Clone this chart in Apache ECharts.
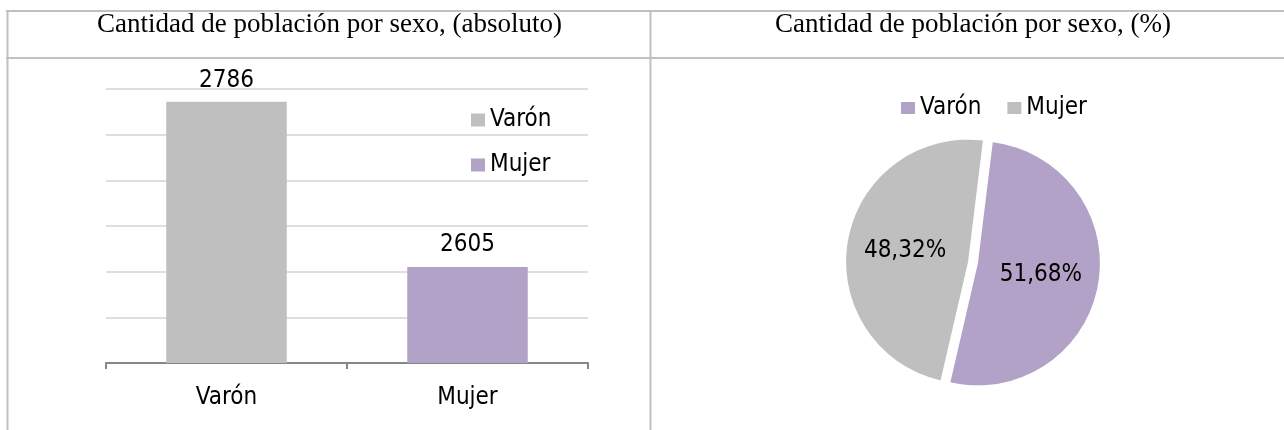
<!DOCTYPE html>
<html lang="es">
<head>
    <meta charset="UTF-8">
    <title>Cantidad de población por sexo</title>
    <style>
        html, body { margin: 0; padding: 0; background: #fff; }
        #main { width: 1284px; height: 430px; }
    </style>
    <script src="https://cdn.jsdelivr.net/npm/echarts@6/dist/echarts.min.js"></script>
</head>
<body>
    <div id="main"></div>
    <script>
        // datos
        const categorias = ['Varón', 'Mujer'];
        const poblacion = [2786, 2605];
        const titulos = ['Cantidad de población por sexo, (absoluto)', 'Cantidad de población por sexo, (%)'];
        const ejeMin = 2500, ejeMax = 2800, ejeIntervalo = 50;

        const gris = '#BFBFBF';
        const lila = '#B3A2C7';
        const fuente = "'DejaVu Sans Condensed', 'DejaVu Sans'";
        const borde = '#C0C0C0';
        const tam = 24;

        const chart = echarts.init(document.getElementById('main'));

        // lineas de la tabla
        function linea(x1, y1, x2, y2) {
            return { type: 'line', shape: { x1, y1, x2, y2 }, style: { stroke: borde, lineWidth: 2 }, silent: true };
        }
        function titulo(x, texto) {
            return { type: 'text', x: x, y: 25, style: { text: texto, fontFamily: 'Liberation Serif', fontSize: 27, fill: '#000', align: 'center', verticalAlign: 'middle' } };
        }

        const option = {
            animation: false,
            graphic: [
                linea(6, 11, 1284, 11),
                linea(6, 58, 1284, 58),
                linea(7.5, 10, 7.5, 430),
                linea(650.5, 10, 650.5, 430),
                titulo(329.5, titulos[0]),
                titulo(973, titulos[1])
            ],
            textStyle: { fontFamily: fuente },
            legend: [{
                data: categorias,
                orient: 'vertical',
                left: 471,
                top: 108,
                padding: 0,
                itemWidth: 14,
                itemHeight: 13,
                itemGap: 21,
                icon: 'rect',
                textStyle: { fontFamily: fuente, fontSize: tam, color: '#000' },
                selectedMode: false
            }, {
                data: [
                    { name: categorias[0], itemStyle: { color: lila } },
                    { name: categorias[1], itemStyle: { color: gris } }
                ],
                orient: 'horizontal',
                left: 901,
                top: 96,
                padding: 0,
                itemWidth: 14,
                itemHeight: 12,
                itemGap: 26,
                icon: 'rect',
                textStyle: { fontFamily: fuente, fontSize: tam, color: '#000' },
                selectedMode: false
            }],
            grid: { left: 106, right: 696, top: 89, bottom: 67, outerBoundsMode: 'none' },
            xAxis: {
                type: 'category',
                data: categorias,
                axisLine: { lineStyle: { color: '#868686', width: 2 } },
                axisTick: { show: true, length: 6, lineStyle: { color: '#868686', width: 2 } },
                axisLabel: { fontFamily: fuente, fontSize: tam, color: '#000', margin: 23 }
            },
            yAxis: {
                type: 'value',
                min: ejeMin,
                max: ejeMax,
                interval: ejeIntervalo,
                axisLabel: { show: false },
                axisLine: { show: false },
                axisTick: { show: false },
                splitLine: { lineStyle: { color: '#DEDEDE', width: 2 } }
            },
            series: [{
                name: categorias[0],
                type: 'bar',
                barWidth: '50%',
                barGap: '-100%',
                itemStyle: { color: gris },
                label: { show: true, position: 'top', distance: 9, fontFamily: fuente, fontSize: tam, color: '#000' },
                data: [poblacion[0], '-']
            }, {
                name: categorias[1],
                type: 'bar',
                barWidth: '50%',
                barGap: '-100%',
                itemStyle: { color: lila },
                label: { show: true, position: 'top', distance: 10, fontFamily: fuente, fontSize: tam, color: '#000' },
                data: ['-', poblacion[1]]
            }, {
                name: 'Porcentaje',
                type: 'pie',
                center: [973, 262.5],
                radius: 122,
                startAngle: 83,
                clockwise: true,
                selectedMode: 'multiple',
                selectedOffset: 5,
                emphasis: { disabled: true },
                label: {
                    show: true,
                    position: 'inside',
                    fontFamily: fuente,
                    fontSize: tam,
                    color: '#000',
                    formatter: p => p.percent.toFixed(2).replace('.', ',') + '%'
                },
                labelLine: { show: false },
                data: [
                    { name: categorias[0], value: poblacion[0], selected: true, itemStyle: { color: lila } },
                    { name: categorias[1], value: poblacion[1], selected: true, itemStyle: { color: gris } }
                ]
            }]
        };

        chart.setOption(option);
    </script>
</body>
</html>
